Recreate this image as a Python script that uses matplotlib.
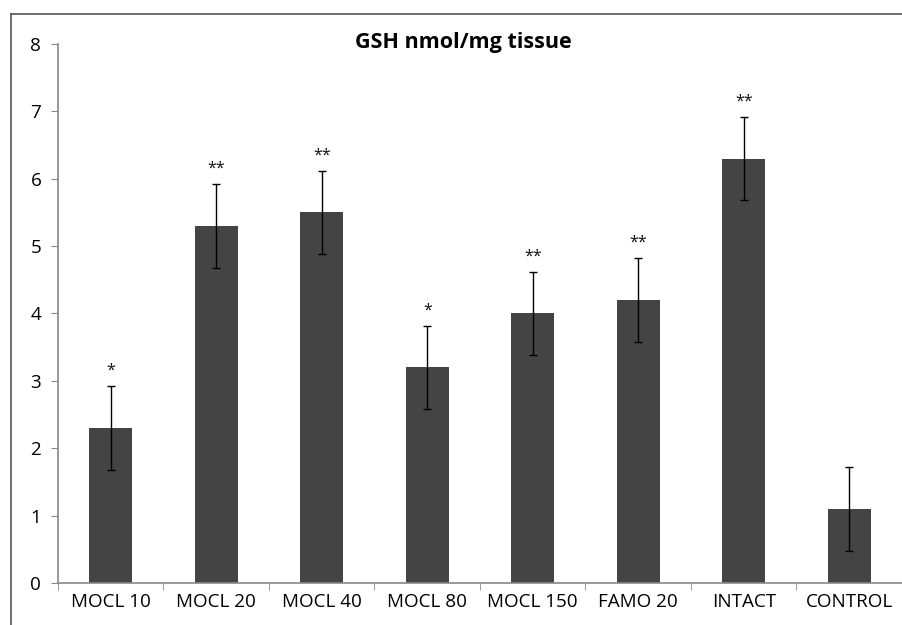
import matplotlib
matplotlib.use("Agg")
import matplotlib.pyplot as plt
from matplotlib.lines import Line2D
import numpy as np

categories = ["MOCL 10", "MOCL 20", "MOCL 40", "MOCL 80", "MOCL 150", "FAMO 20", "INTACT", "CONTROL"]
values = [2.3, 5.3, 5.5, 3.2, 4.0, 4.2, 6.3, 1.1]
errors = [0.62, 0.62, 0.62, 0.62, 0.62, 0.62, 0.62, 0.62]
stars = ["*", "**", "**", "*", "**", "**", "**", ""]
title = "GSH nmol/mg tissue"

plt.rcParams['font.family'] = ['Open Sans', 'DejaVu Sans']

W, H = 903, 625
fig = plt.figure(figsize=(W/100, H/100), dpi=100)
ax = fig.add_axes([58/W, 1-583/H, (902-58)/W, (583-44)/H])

x = np.arange(len(categories))
ax.bar(x, values, width=0.41, color="#444444", zorder=2)
ax.errorbar(x, values, yerr=errors, fmt="none", ecolor="black", elinewidth=1.0,
            capsize=3, capthick=1.0, zorder=3)
for xi, v, e, s in zip(x, values, errors, stars):
    if s:
        ax.text(xi, v + e + 0.17, s, ha="center", va="baseline", fontsize=11.5, color="#111111")

ax.set_xlim(-0.5, len(categories) - 0.5)
ax.set_ylim(0, 8)
ax.set_yticks(range(0, 9))
ax.set_xticks(x)
ax.set_xticklabels(categories)
ax.set_xticks(np.arange(-0.5, len(categories)), minor=True)
ax.tick_params(axis="x", which="major", length=0, pad=7, labelsize=13.6)
ax.tick_params(axis="x", which="minor", length=5, color="#888888", direction="out")
ax.tick_params(axis="y", length=5, color="#888888", direction="out", labelsize=13.6, pad=7)
for s in ["top", "right"]:
    ax.spines[s].set_visible(False)
for s in ["left", "bottom"]:
    ax.spines[s].set_color("#888888")
    ax.spines[s].set_linewidth(1.2)

fig.text(463/W, 1-48/H, title, ha="center", va="baseline", fontsize=15.5, fontweight="bold")

fig.add_artist(Line2D([11/W, 11/W], [0, 1-14/H], transform=fig.transFigure, color="#555555", lw=1.2))
fig.add_artist(Line2D([11/W, 1], [1-14/H, 1-14/H], transform=fig.transFigure, color="#555555", lw=1.2))

fig.savefig("out.png", dpi=100)
